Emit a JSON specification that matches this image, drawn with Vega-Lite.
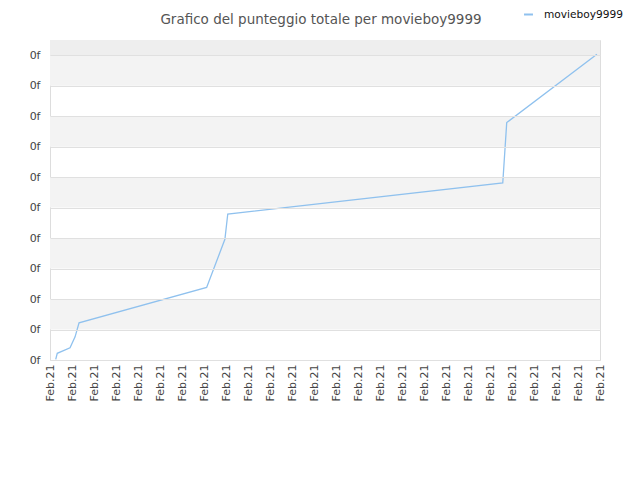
{
  "$schema": "https://vega.github.io/schema/vega-lite/v6.json",
  "autosize": "none",
  "padding": {"left": 50, "top": 40, "right": 40, "bottom": 120},
  "width": 550,
  "height": 320,
  "background": "white",
  "config": {
    "font": "DejaVu Sans",
    "view": {"stroke": "#dddddd"}
  },
  "title": {
    "text": "Grafico del punteggio totale per movieboy9999",
    "fontSize": 13.5,
    "fontWeight": "normal",
    "color": "#555555",
    "font": "DejaVu Sans",
    "anchor": "middle",
    "offset": -17,
    "dx": -4
  },
  "datasets": {
    "bands": [
      {"lo": 1, "hi": 2, "tone": "band"},
      {"lo": 3, "hi": 4, "tone": "band"},
      {"lo": 5, "hi": 6, "tone": "band"},
      {"lo": 7, "hi": 8, "tone": "band"},
      {"lo": 9, "hi": 10, "tone": "band"},
      {"lo": 10, "hi": 10.5, "tone": "top"}
    ],
    "scores": [
      {"t": 0.26, "score": 0.02, "user": "movieboy9999"},
      {"t": 0.33, "score": 0.22, "user": "movieboy9999"},
      {"t": 0.91, "score": 0.40, "user": "movieboy9999"},
      {"t": 1.14, "score": 0.76, "user": "movieboy9999"},
      {"t": 1.32, "score": 1.22, "user": "movieboy9999"},
      {"t": 7.12, "score": 2.38, "user": "movieboy9999"},
      {"t": 7.95, "score": 3.96, "user": "movieboy9999"},
      {"t": 8.08, "score": 4.79, "user": "movieboy9999"},
      {"t": 20.58, "score": 5.81, "user": "movieboy9999"},
      {"t": 20.76, "score": 7.79, "user": "movieboy9999"},
      {"t": 24.86, "score": 10.03, "user": "movieboy9999"}
    ]
  },
  "layer": [
    {
      "data": {"name": "bands"},
      "mark": {"type": "rect"},
      "encoding": {
        "x": {
          "datum": 0,
          "type": "quantitative",
          "scale": {"domain": [0, 25], "nice": false, "zero": false},
          "axis": {
            "title": null,
            "values": [0,1,2,3,4,5,6,7,8,9,10,11,12,13,14,15,16,17,18,19,20,21,22,23,24,25],
            "labelExpr": "'Feb.21'",
            "labelAngle": -90,
            "labelAlign": "right",
            "labelBaseline": "middle",
            "labelFontSize": 11,
            "labelColor": "#444444",
            "labelPadding": 4,
            "labelFlush": false,
            "labelOverlap": false,
            "ticks": false,
            "domain": false,
            "grid": false
          }
        },
        "x2": {"datum": 25},
        "y": {
          "field": "lo",
          "type": "quantitative",
          "scale": {"domain": [0, 10.5], "nice": false},
          "axis": {
            "title": null,
            "values": [0,1,2,3,4,5,6,7,8,9,10],
            "labelExpr": "'0f'",
            "labelFontSize": 11,
            "labelColor": "#444444",
            "labelPadding": 10,
            "labelOverlap": false,
            "ticks": false,
            "domain": false,
            "grid": true,
            "gridColor": "#e0e0e0",
            "zindex": 1,
            "labelFlush": false
          }
        },
        "y2": {"field": "hi"},
        "fill": {
          "field": "tone",
          "type": "nominal",
          "scale": {"domain": ["band", "top"], "range": ["#f3f3f3", "#eeeeee"]},
          "legend": null
        }
      }
    },
    {
      "data": {"name": "scores"},
      "mark": {"type": "line", "strokeWidth": 1.3, "interpolate": "linear"},
      "encoding": {
        "x": {
          "field": "t",
          "type": "quantitative",
          "scale": {"domain": [0, 25], "nice": false, "zero": false},
          "axis": {
            "title": null,
            "values": [0,1,2,3,4,5,6,7,8,9,10,11,12,13,14,15,16,17,18,19,20,21,22,23,24,25],
            "labelExpr": "'Feb.21'",
            "labelAngle": -90,
            "labelAlign": "right",
            "labelBaseline": "middle",
            "labelFontSize": 11,
            "labelColor": "#444444",
            "labelPadding": 4,
            "labelFlush": false,
            "labelOverlap": false,
            "ticks": false,
            "domain": false,
            "grid": false
          }
        },
        "y": {
          "field": "score",
          "type": "quantitative",
          "scale": {"domain": [0, 10.5], "nice": false},
          "axis": {
            "title": null,
            "values": [0,1,2,3,4,5,6,7,8,9,10],
            "labelExpr": "'0f'",
            "labelFontSize": 11,
            "labelColor": "#444444",
            "labelPadding": 10,
            "labelOverlap": false,
            "ticks": false,
            "domain": false,
            "grid": true,
            "gridColor": "#e0e0e0",
            "zindex": 1,
            "labelFlush": false
          }
        },
        "stroke": {
          "field": "user",
          "type": "nominal",
          "scale": {"range": ["#8fc1ee"]},
          "legend": {
            "title": null,
            "orient": "none",
            "legendX": 473,
            "legendY": -31,
            "symbolType": "stroke",
            "symbolSize": 80,
            "symbolStrokeWidth": 2,
            "labelOffset": 10,
            "labelFontSize": 10.6,
            "labelColor": "#111111",
            "labelFont": "DejaVu Sans"
          }
        }
      }
    }
  ],
  "resolve": {"scale": {"fill": "independent", "stroke": "independent"}}
}
